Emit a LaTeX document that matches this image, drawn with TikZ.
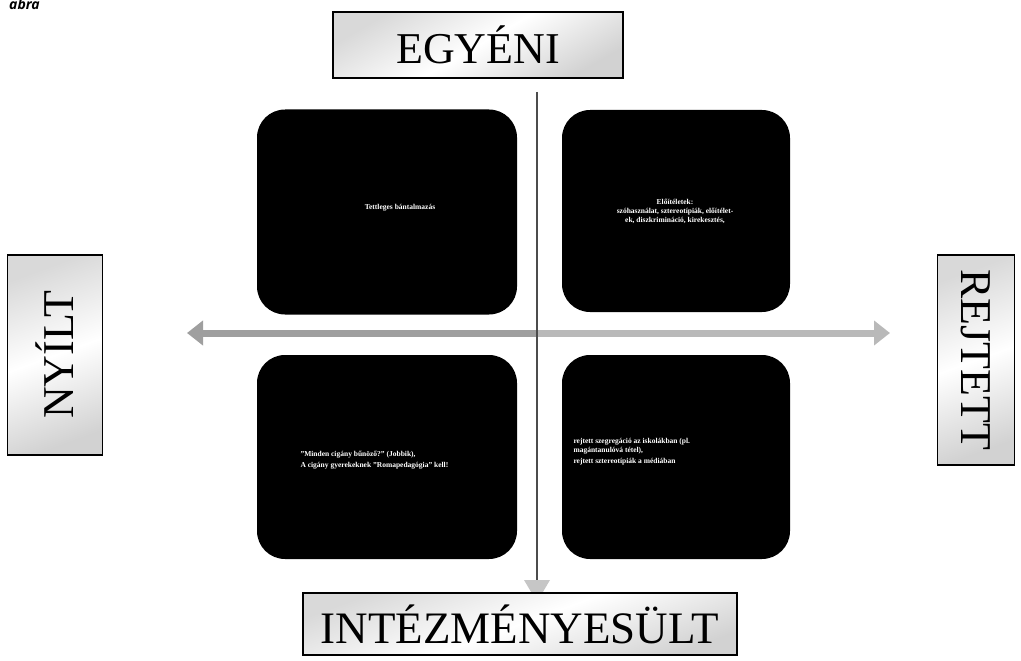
\documentclass[tikz,border=0pt]{standalone}
\usepackage{fontspec}
\setmainfont{Liberation Serif}
\newfontfamily\abrafont{Open Sans}
\usetikzlibrary{arrows.meta,calc}
\begin{document}
\begin{tikzpicture}[x=1pt,y=-1pt,
  quad/.style={fill=black, rounded corners=28pt, draw=none, inner sep=0pt},
  qtext/.style={text=white, font=\bfseries\fontsize{7.5}{9}\selectfont, align=center},
  label/.style={draw=black, line width=1.2pt, inner sep=0pt, font=\fontsize{44}{44}\selectfont,
     left color=gray!30, right color=gray!35, middle color=white},
]
\useasboundingbox (0,0) rectangle (1021,661);
% caption fragment
\node[anchor=north west, inner sep=0pt, font=\abrafont\itshape\bfseries\fontsize{14}{14}\selectfont] (abra) at (9,-1) {abra};
% quadrants
\node[quad, minimum width=260pt, minimum height=205pt] (tl) at (387,212) {};
\node[quad, minimum width=228pt, minimum height=202pt] (tr) at (676,211) {};
\node[quad, minimum width=260pt, minimum height=204pt] (bl) at (387,457) {};
\node[quad, minimum width=228pt, minimum height=204pt] (br) at (676,457) {};
\node[qtext] (tlt) at (400,208) {Tettleges bántalmazás};
\node[qtext] (trt) at (675,211) {Előítéletek:\\ szóhasználat, sztereotípiák, előítélet-\\ ek, diszkrimináció, kirekesztés,};
\node[qtext, anchor=west, align=left] (blt) at (297,460) {"Minden cigány bűnöző?" (Jobbik),\\[2pt] A cigány gyerekeknek "Romapedagógia" kell!};
\node[qtext, anchor=west, align=left] (brt) at (570,452) {rejtett szegregáció az iskolákban (pl.\\ magántanulóvá tétel),\\[2pt] rejtett sztereotípiák a médiában};
% axes
\coordinate (hl) at (187,333);
\coordinate (hr) at (890,333);
\coordinate (hc) at (537,333);
\draw[line width=7pt, draw=gray!55, -{Triangle[width=24pt,length=16pt]}] (hc) -- (hr);
\draw[line width=7pt, draw=gray!75, -{Triangle[width=24pt,length=16pt]}] (hc) -- (hl);
\coordinate (vt) at (537,92);
\coordinate (vb) at (537,602);
\draw[line width=2pt, draw=gray!60!black] (vt) -- ($(vb)+(0,-22)$);
\fill[gray!45] (524,580) -- (550,580) -- (vb) -- cycle;
% labels
\node[label, minimum width=290pt, minimum height=66pt, shading angle=30] (egy) at (478,45) {EGYÉNI};
\node[label, minimum width=434pt, minimum height=62pt, shading angle=20, font=\fontsize{45}{45}\selectfont] (int) at (520,624) {INTÉZMÉNYESÜLT};
\node[label, minimum width=200pt, minimum height=95pt, rotate=90, shading angle=20] (nyi) at (55,355) {NYÍLT};
\node[label, minimum width=210pt, minimum height=77pt, rotate=-90, shading angle=20] (rej) at (976,360) {REJTETT};
\end{tikzpicture}
\end{document}
